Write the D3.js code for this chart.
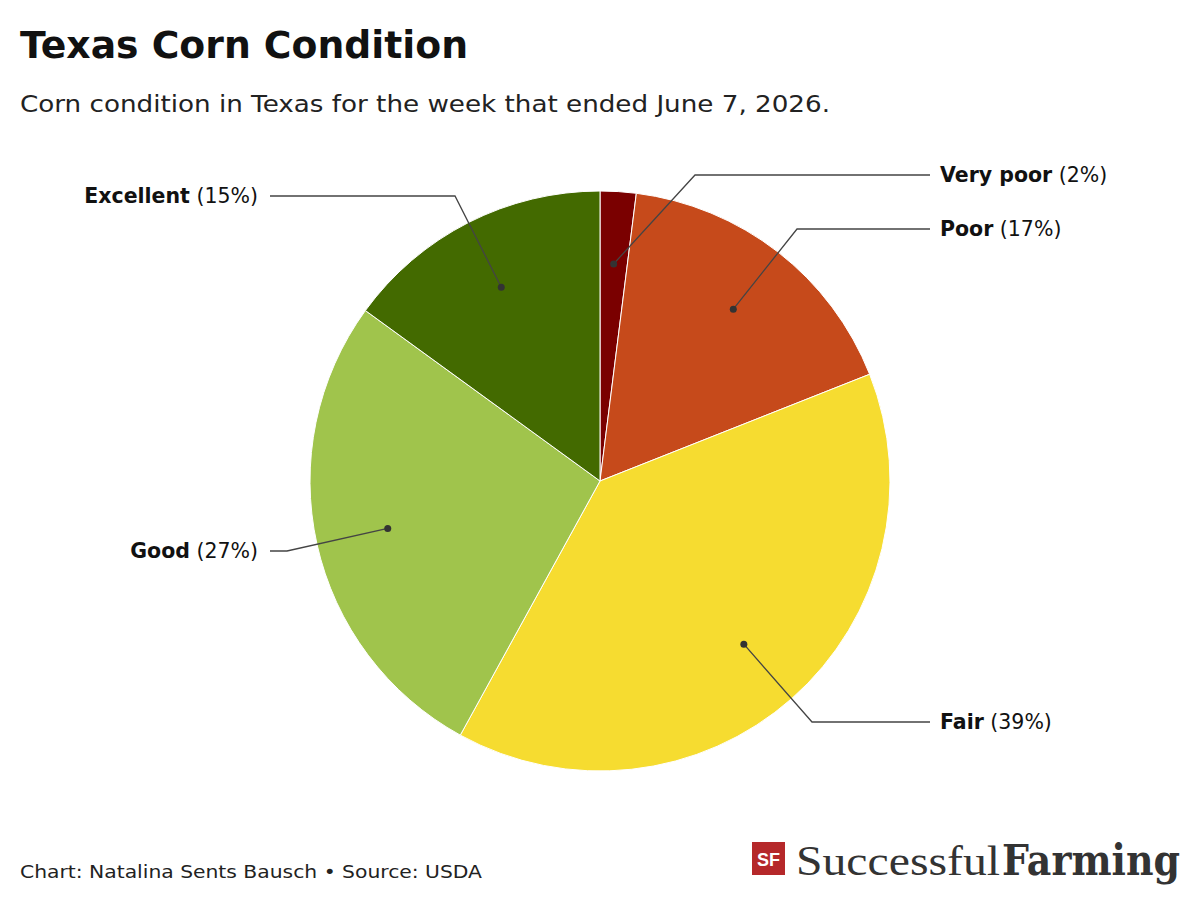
<!DOCTYPE html>
<html><head><meta charset="utf-8">
<script src="https://cdn.jsdelivr.net/npm/d3@7"></script>
<style>body{margin:0;background:#fff}</style>
</head><body><svg id="c" width="1200" height="903"></svg>
<script>
const categories = ["Very poor","Poor","Fair","Good","Excellent"];
const values = [2,17,39,27,15];
const colors = ["#7a0000","#c64a1b","#f6dc30","#a0c44c","#436a00"];
// label layout: elbow x/y and side
const labelY = [175,229,722,551,196];
const elbowX = [695,797,812,287,455];
const labelSide = [1,1,1,-1,-1];
const F = "DejaVu Sans, sans-serif";

const svg = d3.select("#c");
svg.append("text").attr("x",20).attr("y",58).style("font-family",F).attr("font-size",37).attr("font-weight",700).attr("fill","#111")
  .attr("textLength",448).attr("lengthAdjust","spacingAndGlyphs").text("Texas Corn Condition");
svg.append("text").attr("x",20).attr("y",112).style("font-family",F).attr("font-size",23).attr("fill","#222")
  .attr("textLength",810).attr("lengthAdjust","spacingAndGlyphs").text("Corn condition in Texas for the week that ended June 7, 2026.");
svg.append("text").attr("x",20).attr("y",878).style("font-family",F).attr("font-size",18).attr("fill","#222")
  .attr("textLength",462).attr("lengthAdjust","spacingAndGlyphs").text("Chart: Natalina Sents Bausch \u2022 Source: USDA");

const cx=600, cy=481, R=290;
const g = svg.append("g").attr("transform",`translate(${cx},${cy})`);
const pie = d3.pie().sort(null).value(d=>d)(values);
const arc = d3.arc().innerRadius(0).outerRadius(R);
g.selectAll("path").data(pie).join("path").attr("d",arc)
 .attr("fill",(d,i)=>colors[i]).attr("stroke","#fff").attr("stroke-width",1);
const inner = d3.arc().innerRadius(R*0.75).outerRadius(R*0.75);
pie.forEach((d,i)=>{
  const [px,py]=inner.centroid(d);
  const ey=labelY[i]-cy, side=labelSide[i], ex=elbowX[i]-cx;
  const endX = side>0 ? 330 : -330;
  g.append("polyline").attr("points",`${px},${py} ${ex},${ey} ${endX},${ey}`)
    .attr("fill","none").attr("stroke","#444").attr("stroke-width",1.3);
  g.append("circle").attr("cx",px).attr("cy",py).attr("r",3.5).attr("fill","#333");
  const t = g.append("text").attr("x",side>0?endX+10:endX-12).attr("y",ey+7).style("font-family",F)
    .attr("text-anchor",side>0?"start":"end").attr("font-size",20.5).attr("fill","#111");
  t.append("tspan").attr("font-weight",700).text(categories[i]);
  t.append("tspan").text(` (${values[i]}%)`);
});
// logo
const lg = svg.append("g").attr("transform","translate(752,842)");
lg.append("rect").attr("width",33).attr("height",33).attr("fill","#b5282a");
lg.append("text").attr("x",16.5).attr("y",24).attr("text-anchor","middle").attr("font-size",18).attr("font-weight",800).attr("fill","#fff").style("font-family","Liberation Sans").text("SF");
lg.append("text").attr("x",44).attr("y",33).attr("font-size",42).attr("fill","#333").style("font-family","Liberation Serif")
  .attr("textLength",204).attr("lengthAdjust","spacingAndGlyphs").text("Successful");
lg.append("text").attr("x",250).attr("y",33).attr("font-size",42).attr("font-weight",700).attr("fill","#333").style("font-family","DejaVu Serif")
  .attr("textLength",178).attr("lengthAdjust","spacingAndGlyphs").text("Farming");
</script></body></html>
